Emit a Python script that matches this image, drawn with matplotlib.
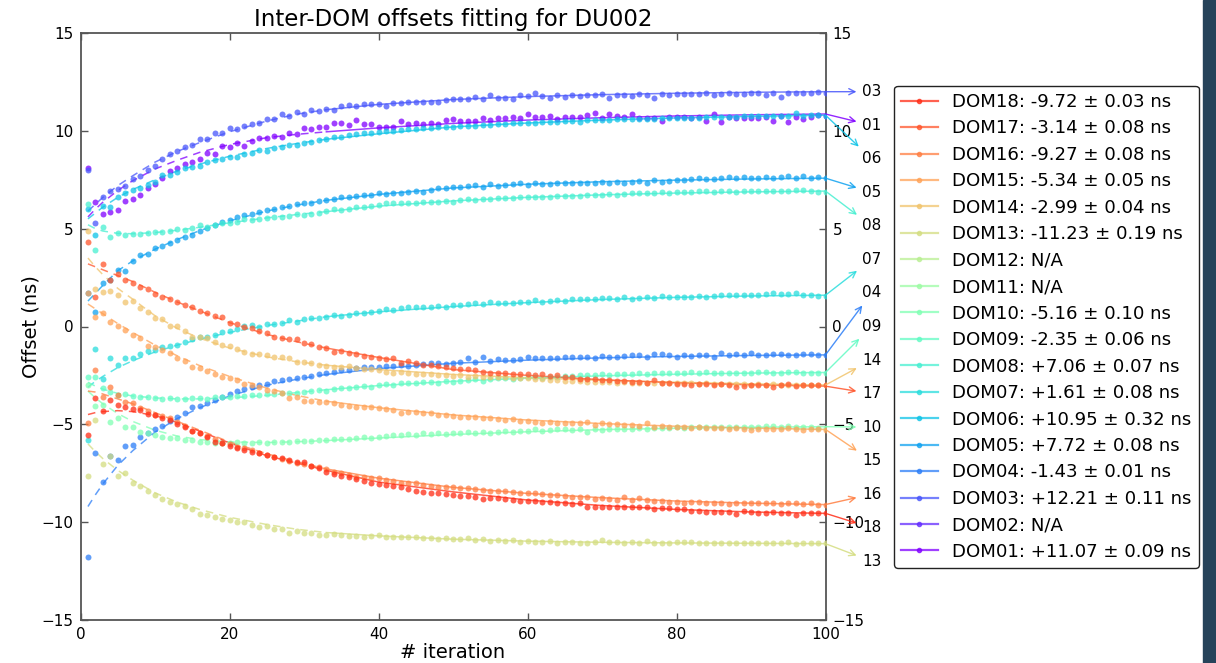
import numpy as np
import matplotlib
matplotlib.use('Agg')
import matplotlib.pyplot as plt
from matplotlib.lines import Line2D
from matplotlib.patches import Rectangle

plt.rcParams['font.family'] = ['DejaVu Sans']

iterations = list(range(1, 101))

dom03 = [8.0, 5.3, 6.6, 6.9, 7.01, 7.2, 7.52, 7.69, 8.0, 8.2,
         8.54, 8.81, 8.98, 9.15, 9.27, 9.57, 9.57, 9.87, 9.87, 10.13,
         10.08, 10.25, 10.33, 10.42, 10.59, 10.59, 10.86, 10.76, 10.98, 10.86,
         11.06, 11.03, 11.1, 11.06, 11.27, 11.32, 11.27, 11.37, 11.37, 11.37,
         11.27, 11.4, 11.4, 11.49, 11.49, 11.49, 11.49, 11.49, 11.57, 11.61,
         11.61, 11.61, 11.74, 11.61, 11.83, 11.66, 11.66, 11.61, 11.83, 11.78,
         11.91, 11.78, 11.66, 11.83, 11.74, 11.83, 11.78, 11.83, 11.83, 11.88,
         11.7, 11.83, 11.83, 11.78, 11.88, 11.83, 11.66, 11.88, 11.83, 11.88,
         11.88, 11.88, 11.88, 11.95, 11.83, 11.88, 11.91, 11.88, 11.88, 11.95,
         11.91, 11.83, 11.95, 11.74, 11.95, 11.91, 11.91, 11.95, 12.0, 11.95]

dom01 = [8.1, 6.38, 5.75, 5.85, 5.95, 6.43, 6.5, 6.72, 7.06, 7.3,
         7.6, 7.96, 8.1, 8.3, 8.42, 8.54, 8.88, 8.81, 9.22, 9.15,
         9.39, 9.22, 9.5, 9.61, 9.61, 9.73, 9.66, 9.9, 9.83, 10.12,
         10.07, 10.21, 10.21, 10.38, 10.41, 10.3, 10.55, 10.33, 10.33, 10.18,
         10.21, 10.21, 10.52, 10.35, 10.41, 10.33, 10.41, 10.35, 10.55, 10.58,
         10.52, 10.52, 10.52, 10.64, 10.55, 10.64, 10.64, 10.72, 10.64, 10.84,
         10.72, 10.72, 10.77, 10.58, 10.72, 10.72, 10.72, 10.8, 10.89, 10.64,
         10.84, 10.75, 10.72, 10.84, 10.64, 10.64, 10.64, 10.52, 10.72, 10.72,
         10.69, 10.64, 10.72, 10.52, 10.84, 10.47, 10.72, 10.64, 10.64, 10.64,
         10.64, 10.72, 10.52, 10.75, 10.47, 10.72, 10.58, 10.72, 10.8, 10.78]

dom06 = [6.0, 4.7, 6.17, 6.12, 6.63, 6.84, 6.97, 7.09, 7.23, 7.4,
         7.74, 7.74, 7.91, 8.08, 8.16, 8.2, 8.42, 8.51, 8.54, 8.68,
         8.68, 8.81, 8.85, 9.02, 8.98, 9.14, 9.15, 9.27, 9.27, 9.39,
         9.44, 9.53, 9.58, 9.7, 9.7, 9.78, 9.83, 9.87, 9.9, 9.95,
         9.99, 10.0, 10.04, 10.07, 10.09, 10.13, 10.16, 10.18, 10.21, 10.21,
         10.24, 10.24, 10.26, 10.3, 10.3, 10.33, 10.35, 10.38, 10.38, 10.41,
         10.41, 10.43, 10.47, 10.47, 10.5, 10.52, 10.43, 10.55, 10.55, 10.57,
         10.55, 10.6, 10.58, 10.6, 10.62, 10.6, 10.62, 10.64, 10.64, 10.64,
         10.66, 10.66, 10.68, 10.7, 10.7, 10.7, 10.72, 10.72, 10.74, 10.75,
         10.75, 10.76, 10.76, 10.78, 10.77, 10.93, 10.78, 10.79, 10.8, 10.77]

dom05 = [1.7, 0.76, 2.2, 2.4, 2.88, 2.85, 3.36, 3.65, 3.73, 3.99,
         4.1, 4.28, 4.41, 4.59, 4.68, 4.9, 5.02, 5.19, 5.32, 5.44,
         5.58, 5.7, 5.75, 5.87, 5.95, 5.99, 6.12, 6.16, 6.26, 6.29,
         6.33, 6.43, 6.46, 6.54, 6.6, 6.63, 6.67, 6.72, 6.72, 6.8,
         6.77, 6.84, 6.8, 6.89, 6.94, 6.89, 7.0, 7.06, 7.06, 7.11,
         7.11, 7.18, 7.23, 7.14, 7.28, 7.18, 7.23, 7.28, 7.31, 7.23,
         7.31, 7.28, 7.28, 7.35, 7.31, 7.35, 7.35, 7.31, 7.35, 7.4,
         7.35, 7.4, 7.35, 7.4, 7.45, 7.35, 7.48, 7.4, 7.45, 7.48,
         7.48, 7.52, 7.57, 7.52, 7.52, 7.57, 7.62, 7.57, 7.62, 7.57,
         7.57, 7.62, 7.57, 7.62, 7.69, 7.57, 7.69, 7.57, 7.62, 7.57]

dom08 = [6.25, 3.9, 5.1, 4.55, 4.8, 4.7, 4.72, 4.75, 4.8, 4.85,
         4.85, 4.9, 4.97, 4.95, 5.02, 5.19, 5.1, 5.19, 5.27, 5.3,
         5.35, 5.47, 5.45, 5.5, 5.52, 5.6, 5.6, 5.64, 5.75, 5.7,
         5.75, 5.82, 5.92, 5.98, 5.95, 6.03, 6.12, 6.12, 6.15, 6.2,
         6.29, 6.29, 6.33, 6.29, 6.33, 6.38, 6.38, 6.38, 6.43, 6.38,
         6.46, 6.5, 6.46, 6.5, 6.5, 6.55, 6.55, 6.55, 6.6, 6.6,
         6.6, 6.63, 6.63, 6.67, 6.67, 6.67, 6.67, 6.72, 6.72, 6.72,
         6.77, 6.72, 6.77, 6.8, 6.8, 6.84, 6.84, 6.89, 6.84, 6.89,
         6.89, 6.89, 6.94, 6.94, 6.89, 6.94, 6.94, 6.89, 6.94, 6.94,
         6.94, 6.94, 6.94, 6.94, 6.94, 7.0, 6.97, 6.94, 6.89, 6.89]

dom07 = [-5.8, -1.17, -2.7, -1.63, -1.97, -1.6, -1.6, -1.4, -1.25, -1.2,
         -1.05, -0.99, -0.94, -0.78, -0.66, -0.52, -0.52, -0.44, -0.26, -0.21,
         -0.14, 0.03, 0.08, -0.02, 0.13, 0.13, 0.2, 0.33, 0.25, 0.37,
         0.42, 0.45, 0.5, 0.59, 0.54, 0.59, 0.67, 0.71, 0.76, 0.81,
         0.87, 0.84, 0.93, 0.98, 0.98, 1.01, 0.98, 1.05, 1.01, 1.1,
         1.1, 1.15, 1.18, 1.15, 1.27, 1.22, 1.22, 1.22, 1.27, 1.27,
         1.35, 1.27, 1.32, 1.35, 1.32, 1.39, 1.39, 1.39, 1.39, 1.44,
         1.44, 1.39, 1.49, 1.39, 1.44, 1.52, 1.44, 1.55, 1.52, 1.52,
         1.52, 1.52, 1.55, 1.52, 1.55, 1.6, 1.6, 1.6, 1.6, 1.6,
         1.6, 1.65, 1.69, 1.65, 1.65, 1.72, 1.6, 1.6, 1.55, 1.55]

dom04 = [-11.76, -6.45, -7.96, -6.62, -6.82, -6.1, -6.05, -5.63, -5.45, -5.22,
         -5.08, -4.85, -4.61, -4.44, -4.1, -4.06, -3.93, -3.75, -3.58, -3.45,
         -3.28, -3.2, -3.07, -2.99, -2.96, -2.79, -2.74, -2.7, -2.65, -2.6,
         -2.53, -2.43, -2.39, -2.3, -2.22, -2.22, -2.14, -2.09, -2.05, -2.05,
         -2.02, -2.02, -1.97, -2.02, -1.97, -1.92, -1.88, -1.85, -1.92, -1.85,
         -1.8, -1.63, -1.8, -1.55, -1.75, -1.68, -1.71, -1.71, -1.68, -1.58,
         -1.63, -1.63, -1.63, -1.63, -1.58, -1.58, -1.58, -1.55, -1.63, -1.51,
         -1.58, -1.58, -1.51, -1.46, -1.46, -1.58, -1.41, -1.41, -1.46, -1.58,
         -1.46, -1.51, -1.46, -1.46, -1.58, -1.37, -1.46, -1.41, -1.46, -1.34,
         -1.46, -1.46, -1.41, -1.41, -1.46, -1.46, -1.41, -1.41, -1.46, -1.46]

dom09 = [-2.6, -2.56, -3.16, -3.33, -3.5, -3.45, -3.55, -3.6, -3.62, -3.65,
         -3.72, -3.65, -3.72, -3.72, -3.65, -3.65, -3.7, -3.62, -3.6, -3.58,
         -3.55, -3.55, -3.5, -3.5, -3.45, -3.45, -3.42, -3.38, -3.38, -3.33,
         -3.28, -3.25, -3.28, -3.21, -3.16, -3.16, -3.08, -3.04, -3.08, -2.99,
         -2.94, -2.99, -2.9, -2.87, -2.9, -2.82, -2.82, -2.87, -2.77, -2.82,
         -2.77, -2.73, -2.7, -2.77, -2.7, -2.65, -2.65, -2.7, -2.65, -2.6,
         -2.6, -2.65, -2.56, -2.56, -2.53, -2.53, -2.48, -2.48, -2.48, -2.43,
         -2.48, -2.43, -2.43, -2.43, -2.39, -2.43, -2.39, -2.39, -2.39, -2.39,
         -2.36, -2.31, -2.36, -2.31, -2.36, -2.36, -2.36, -2.36, -2.36, -2.36,
         -2.31, -2.31, -2.36, -2.36, -2.31, -2.31, -2.36, -2.36, -2.36, -2.36]

dom14 = [4.87, 1.9, 1.78, 1.83, 1.6, 1.27, 1.3, 0.93, 0.76, 0.42,
         0.4, 0.03, 0.05, -0.21, -0.52, -0.55, -0.6, -0.8, -0.95, -1.0,
         -1.17, -1.28, -1.41, -1.41, -1.46, -1.54, -1.58, -1.63, -1.8, -1.8,
         -1.85, -1.95, -2.02, -2.09, -2.05, -2.02, -2.14, -2.19, -2.19, -2.22,
         -2.3, -2.36, -2.3, -2.39, -2.43, -2.43, -2.43, -2.48, -2.48, -2.53,
         -2.48, -2.56, -2.53, -2.56, -2.56, -2.6, -2.6, -2.65, -2.65, -2.65,
         -2.7, -2.7, -2.73, -2.73, -2.77, -2.77, -2.77, -2.82, -2.82, -2.82,
         -2.82, -2.87, -2.82, -2.87, -2.87, -2.87, -2.9, -2.87, -2.9, -2.9,
         -2.9, -2.9, -2.94, -2.9, -2.94, -2.94, -2.94, -2.94, -2.94, -2.99,
         -2.94, -2.99, -2.94, -2.99, -2.99, -2.99, -2.99, -2.99, -2.99, -2.99]

dom17 = [4.33, 1.5, 3.19, 2.4, 2.7, 2.4, 2.2, 2.03, 1.9, 1.66,
         1.52, 1.39, 1.27, 1.1, 1.0, 0.81, 0.71, 0.54, 0.47, 0.2,
         0.13, -0.04, -0.09, -0.21, -0.35, -0.52, -0.58, -0.66, -0.66, -0.83,
         -0.88, -1.03, -1.12, -1.29, -1.24, -1.34, -1.41, -1.51, -1.58, -1.63,
         -1.68, -1.63, -1.85, -1.75, -1.88, -1.97, -1.97, -2.02, -2.05, -2.14,
         -2.19, -2.19, -2.22, -2.3, -2.36, -2.36, -2.39, -2.43, -2.43, -2.43,
         -2.48, -2.43, -2.53, -2.48, -2.56, -2.6, -2.7, -2.7, -2.7, -2.73,
         -2.73, -2.77, -2.77, -2.82, -2.82, -2.87, -2.73, -2.87, -2.87, -2.94,
         -2.94, -2.99, -2.94, -2.94, -2.99, -2.94, -2.99, -3.07, -3.04, -2.99,
         -2.99, -2.99, -3.1, -2.99, -2.94, -3.04, -2.99, -2.99, -2.99, -2.99]

dom10 = [-3.0, -4.06, -4.0, -4.9, -4.69, -5.15, -5.12, -5.37, -5.46, -5.54,
         -5.66, -5.71, -5.7, -5.8, -5.78, -5.89, -5.92, -5.94, -5.94, -5.94,
         -5.92, -5.94, -5.94, -5.89, -5.94, -5.89, -5.89, -5.89, -5.83, -5.83,
         -5.83, -5.8, -5.8, -5.76, -5.76, -5.76, -5.71, -5.63, -5.71, -5.63,
         -5.59, -5.54, -5.54, -5.49, -5.54, -5.46, -5.49, -5.46, -5.49, -5.42,
         -5.46, -5.37, -5.42, -5.37, -5.42, -5.37, -5.32, -5.37, -5.32, -5.32,
         -5.25, -5.32, -5.29, -5.25, -5.25, -5.29, -5.25, -5.37, -5.25, -5.29,
         -5.25, -5.25, -5.25, -5.25, -5.21, -5.25, -5.21, -5.21, -5.21, -5.16,
         -5.21, -5.16, -5.16, -5.16, -5.16, -5.16, -5.16, -5.12, -5.12, -5.16,
         -5.12, -5.09, -5.09, -5.12, -5.09, -5.12, -5.12, -5.16, -5.21, -5.21]

dom15 = [1.7, 0.5, 0.7, 0.24, 0.04, -0.16, -0.43, -0.6, -0.99, -1.03,
         -1.2, -1.37, -1.6, -1.75, -2.05, -2.14, -2.25, -2.45, -2.56, -2.65,
         -2.72, -2.96, -2.98, -3.07, -3.25, -3.28, -3.4, -3.67, -3.62, -3.8,
         -3.8, -3.84, -3.84, -3.92, -4.01, -4.06, -4.1, -4.13, -4.13, -4.18,
         -4.23, -4.27, -4.4, -4.35, -4.35, -4.44, -4.44, -4.52, -4.52, -4.57,
         -4.61, -4.61, -4.64, -4.69, -4.69, -4.74, -4.78, -4.74, -4.81, -4.81,
         -4.86, -4.91, -4.86, -4.91, -4.91, -4.91, -4.91, -4.86, -5.03, -4.91,
         -4.98, -4.98, -5.03, -5.03, -5.09, -4.95, -5.12, -5.09, -5.16, -5.16,
         -5.16, -5.21, -5.16, -5.21, -5.21, -5.21, -5.26, -5.21, -5.26, -5.29,
         -5.26, -5.26, -5.26, -5.26, -5.21, -5.26, -5.29, -5.26, -5.26, -5.29]

dom16 = [-4.91, -2.2, -3.6, -3.08, -3.5, -3.84, -3.93, -4.18, -4.3, -4.5,
         -4.57, -4.7, -4.9, -5.1, -5.32, -5.45, -5.6, -5.75, -5.94, -6.0,
         -6.14, -6.22, -6.31, -6.45, -6.57, -6.69, -6.79, -6.86, -6.96, -7.03,
         -7.13, -7.2, -7.3, -7.42, -7.5, -7.59, -7.67, -7.71, -7.76, -7.76,
         -7.84, -7.88, -7.98, -8.01, -8.01, -8.1, -8.15, -8.19, -8.19, -8.22,
         -8.27, -8.27, -8.32, -8.36, -8.39, -8.39, -8.39, -8.44, -8.49, -8.53,
         -8.53, -8.56, -8.61, -8.61, -8.66, -8.7, -8.7, -8.73, -8.83, -8.78,
         -8.83, -8.87, -8.73, -8.87, -8.78, -8.87, -8.9, -8.9, -8.95, -8.95,
         -9.0, -8.95, -8.95, -9.0, -9.0, -9.0, -9.07, -9.0, -9.0, -9.03,
         -9.0, -9.03, -9.03, -9.07, -9.03, -9.03, -9.07, -9.03, -9.12, -9.12]

dom18 = [-5.54, -3.67, -4.3, -3.75, -4.01, -4.13, -4.2, -4.27, -4.47, -4.52,
         -4.69, -4.78, -4.98, -5.12, -5.32, -5.46, -5.63, -5.89, -5.97, -6.11,
         -6.22, -6.31, -6.4, -6.48, -6.57, -6.65, -6.74, -6.8, -6.91, -6.95,
         -7.13, -7.25, -7.42, -7.54, -7.64, -7.71, -7.81, -7.88, -7.98, -8.05,
         -8.1, -8.15, -8.22, -8.32, -8.39, -8.44, -8.49, -8.53, -8.56, -8.61,
         -8.66, -8.66, -8.7, -8.83, -8.78, -8.78, -8.83, -8.87, -8.9, -8.9,
         -8.9, -8.95, -8.95, -9.0, -9.03, -9.07, -9.03, -9.24, -9.2, -9.2,
         -9.2, -9.2, -9.24, -9.2, -9.2, -9.24, -9.34, -9.29, -9.29, -9.34,
         -9.34, -9.41, -9.41, -9.46, -9.46, -9.46, -9.46, -9.58, -9.41, -9.46,
         -9.51, -9.51, -9.46, -9.51, -9.55, -9.63, -9.51, -9.51, -9.51, -9.51]

dom13 = [-7.64, -4.8, -7.02, -6.61, -7.64, -7.47, -7.98, -8.15, -8.39, -8.61,
         -8.83, -8.95, -9.07, -9.17, -9.34, -9.6, -9.63, -9.72, -9.85, -9.89,
         -9.97, -9.97, -10.14, -10.26, -10.22, -10.37, -10.35, -10.54, -10.45, -10.57,
         -10.54, -10.66, -10.65, -10.6, -10.65, -10.7, -10.7, -10.74, -10.7, -10.65,
         -10.77, -10.77, -10.74, -10.74, -10.77, -10.82, -10.82, -10.87, -10.82, -10.87,
         -10.87, -10.82, -10.91, -10.87, -10.94, -10.91, -10.94, -10.91, -10.99, -10.94,
         -10.99, -10.99, -10.94, -11.04, -10.99, -10.99, -11.04, -11.04, -10.99, -10.91,
         -10.99, -10.99, -11.04, -10.99, -11.07, -10.94, -11.04, -11.04, -11.07, -10.99,
         -10.99, -10.99, -11.07, -11.04, -11.04, -11.04, -11.04, -11.04, -11.07, -11.04,
         -11.07, -11.04, -11.07, -11.04, -10.99, -11.1, -11.04, -11.07, -11.07, -11.07]

# fitted curves sampled at these iterations
fit_iter = [1, 2, 3, 5, 7, 10, 13, 16, 20, 25, 29, 33, 40, 50, 60, 70, 80, 90, 100]
fit03 = [5.9, 6.25, 6.6, 7.2, 7.7, 8.4, 8.95, 9.4, 9.95, 10.5, 10.85, 11.08, 11.35, 11.6, 11.75, 11.85, 11.92, 11.97, 12.0]
fit01 = [5.6, 6.0, 6.35, 6.95, 7.45, 8.05, 8.5, 8.9, 9.3, 9.65, 9.82, 9.95, 10.15, 10.38, 10.55, 10.67, 10.76, 10.82, 10.86]
fit06 = [5.5, 5.8, 6.1, 6.6, 7.0, 7.5, 7.95, 8.3, 8.7, 9.1, 9.35, 9.57, 9.85, 10.2, 10.4, 10.55, 10.66, 10.74, 10.8]
fit05 = [1.3, 1.7, 2.1, 2.85, 3.35, 3.95, 4.45, 4.9, 5.4, 5.9, 6.2, 6.45, 6.75, 7.08, 7.27, 7.4, 7.48, 7.54, 7.58]
fit08 = [5.2, 5.0, 4.88, 4.76, 4.74, 4.8, 4.92, 5.07, 5.3, 5.55, 5.72, 5.87, 6.15, 6.42, 6.6, 6.73, 6.82, 6.88, 6.92]
fit07 = [-3.1, -2.8, -2.55, -2.1, -1.75, -1.3, -0.95, -0.65, -0.3, 0.05, 0.27, 0.5, 0.75, 1.02, 1.22, 1.38, 1.49, 1.56, 1.6]
fit04 = [-9.2, -8.6, -8.05, -7.1, -6.35, -5.4, -4.7, -4.15, -3.55, -3.0, -2.7, -2.45, -2.15, -1.88, -1.72, -1.6, -1.53, -1.48, -1.45]
fit09 = [-2.85, -3.05, -3.2, -3.42, -3.55, -3.65, -3.7, -3.7, -3.65, -3.52, -3.38, -3.23, -3.02, -2.8, -2.64, -2.52, -2.44, -2.38, -2.35]
fit10 = [-3.3, -3.65, -3.95, -4.45, -4.85, -5.3, -5.6, -5.78, -5.9, -5.93, -5.89, -5.83, -5.7, -5.52, -5.38, -5.27, -5.2, -5.15, -5.12]
fit13 = [-6.0, -6.4, -6.75, -7.35, -7.85, -8.5, -8.98, -9.35, -9.75, -10.12, -10.36, -10.53, -10.7, -10.87, -10.97, -11.03, -11.06, -11.08, -11.1]
fit14 = [3.5, 3.05, 2.65, 1.95, 1.4, 0.55, -0.1, -0.6, -1.1, -1.55, -1.8, -1.98, -2.2, -2.45, -2.62, -2.75, -2.85, -2.93, -2.99]
fit15 = [1.15, 0.9, 0.65, 0.15, -0.3, -0.95, -1.5, -2.0, -2.55, -3.15, -3.52, -3.82, -4.15, -4.52, -4.78, -4.96, -5.1, -5.19, -5.26]
fit16 = [-3.3, -3.35, -3.45, -3.7, -3.95, -4.4, -4.85, -5.3, -5.9, -6.5, -6.92, -7.28, -7.75, -8.22, -8.53, -8.75, -8.92, -9.03, -9.1]
fit17 = [3.2, 3.05, 2.9, 2.6, 2.3, 1.75, 1.25, 0.8, 0.2, -0.4, -0.78, -1.1, -1.58, -2.2, -2.5, -2.72, -2.88, -2.98, -3.05]
fit18 = [-4.5, -4.4, -4.35, -4.3, -4.35, -4.55, -4.9, -5.35, -5.95, -6.6, -6.98, -7.35, -7.95, -8.45, -8.87, -9.15, -9.35, -9.48, -9.55]

legend_labels = {
    18: 'DOM18: -9.72 \u00b1 0.03 ns', 17: 'DOM17: -3.14 \u00b1 0.08 ns',
    16: 'DOM16: -9.27 \u00b1 0.08 ns', 15: 'DOM15: -5.34 \u00b1 0.05 ns',
    14: 'DOM14: -2.99 \u00b1 0.04 ns', 13: 'DOM13: -11.23 \u00b1 0.19 ns',
    12: 'DOM12: N/A', 11: 'DOM11: N/A',
    10: 'DOM10: -5.16 \u00b1 0.10 ns', 9: 'DOM09: -2.35 \u00b1 0.06 ns',
    8: 'DOM08: +7.06 \u00b1 0.07 ns', 7: 'DOM07: +1.61 \u00b1 0.08 ns',
    6: 'DOM06: +10.95 \u00b1 0.32 ns', 5: 'DOM05: +7.72 \u00b1 0.08 ns',
    4: 'DOM04: -1.43 \u00b1 0.01 ns', 3: 'DOM03: +12.21 \u00b1 0.11 ns',
    2: 'DOM02: N/A', 1: 'DOM01: +11.07 \u00b1 0.09 ns',
}

data = {1: dom01, 3: dom03, 4: dom04, 5: dom05, 6: dom06, 7: dom07, 8: dom08,
        9: dom09, 10: dom10, 13: dom13, 14: dom14, 15: dom15, 16: dom16,
        17: dom17, 18: dom18}
fits = {1: fit01, 3: fit03, 4: fit04, 5: fit05, 6: fit06, 7: fit07, 8: fit08,
        9: fit09, 10: fit10, 13: fit13, 14: fit14, 15: fit15, 16: fit16,
        17: fit17, 18: fit18}

ALPHA = 0.75
cmap = plt.cm.rainbow
def dom_color(n):
    return cmap((n - 1) / 18.0)

fig = plt.figure(figsize=(12.16, 6.63), dpi=100)
ax = fig.add_axes([80.5 / 1216, 43 / 663, 745 / 1216, 587 / 663])

split = 33
fx = np.array(fit_iter)
for n in sorted(data):
    c = dom_color(n)
    ax.plot(iterations, data[n], 'o', ms=4.3, mew=0, color=c, alpha=ALPHA, zorder=3)
    fy = np.array(fits[n])
    m1 = fx <= split
    m2 = fx >= split
    ax.plot(fx[m1], fy[m1], color=c, alpha=ALPHA, lw=1.1, linestyle=(0, (5, 4)), zorder=2)
    ax.plot(fx[m2], fy[m2], color=c, alpha=ALPHA, lw=1.1, zorder=2)

# labels on the right with arrows
order = sorted(fits, key=lambda k: fits[k][-1], reverse=True)
label_y = np.linspace(12, -12, len(order))
for n, yl in zip(order, label_y):
    c = dom_color(n)
    ax.annotate('%02d' % n, xy=(100, fits[n][-1]), xytext=(104.9, yl),
                textcoords='data', ha='left', va='center', fontsize=11,
                annotation_clip=False,
                arrowprops=dict(arrowstyle='<-', color=c, alpha=0.85, lw=1.0,
                                shrinkA=2, shrinkB=0))

ax.set_xlim(0, 100)
ax.set_ylim(-15, 15)
ax.set_xticks([0, 20, 40, 60, 80, 100])
ax.set_yticks([-15, -10, -5, 0, 5, 10, 15])
ax.tick_params(direction='in', top=True, right=True, labelright=True,
               length=5, width=1, labelsize=11, pad=5, color='#555555')
for s in ax.spines.values():
    s.set_color('#555555')
    s.set_linewidth(1.3)

ax.set_title('Inter-DOM offsets fitting for DU002', fontsize=16.5, pad=5)
ax.set_xlabel('# iteration', fontsize=14, labelpad=1)
ax.set_ylabel('Offset (ns)', fontsize=14, labelpad=1)

handles = []
labels = []
for n in range(18, 0, -1):
    c = dom_color(n)
    handles.append(Line2D([], [], color=c, alpha=ALPHA, lw=1.6, marker='.', ms=6))
    labels.append(legend_labels[n])
leg = ax.legend(handles, labels, loc='upper left',
                bbox_to_anchor=(894 / 1216, 1 - 85.7 / 663),
                bbox_transform=fig.transFigure, borderaxespad=0,
                fontsize=13.1, labelspacing=0.465, handlelength=2.0,
                handletextpad=0.8, borderpad=0.4, numpoints=1,
                fancybox=True, framealpha=1)
leg.get_frame().set_edgecolor('#222222')
leg.get_frame().set_linewidth(1.0)

fig.patches.append(Rectangle((1203 / 1216, 0), 13 / 1216, 1,
                             transform=fig.transFigure, color='#26435a', zorder=0))

fig.savefig('out.png', dpi=100)
